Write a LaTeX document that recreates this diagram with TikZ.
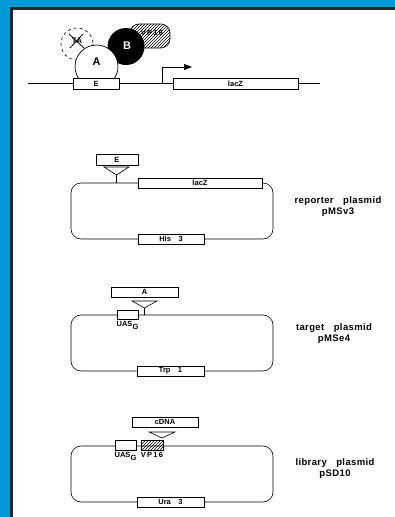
\documentclass[tikz,border=0pt]{standalone}
\usepackage{fontspec}
\setmainfont{Liberation Sans}
\newfontfamily\tagfont{Liberation Sans}[LetterSpace=4]
\usetikzlibrary{patterns,arrows.meta}
\definecolor{frameblue}{RGB}{0,153,214}
\definecolor{framedark}{RGB}{40,40,40}
\tikzset{
  gene/.style={draw, fill=white, line width=.7pt, inner sep=0pt, minimum height=10pt,
    font=\bfseries\fontsize{7.5}{8}\selectfont},
  tag/.style={font=\tagfont\bfseries\fontsize{9.5}{11}\selectfont, align=center},
  small/.style={font=\bfseries\fontsize{7.5}{8}\selectfont, inner sep=0pt},
  protein/.style={font=\bfseries\fontsize{11}{12}\selectfont, inner sep=0pt},
  plasmid/.style={line width=.6pt, rounded corners=10pt},
  insert/.style={draw, line width=.6pt, fill=white},
  hatch/.style={draw, line width=.6pt, pattern=north east lines},
}
\newcommand{\uasg}{UAS\raisebox{-.35em}{G}}
\begin{document}
\begin{tikzpicture}[x=1pt, y=-1pt]
  \useasboundingbox (0,0) rectangle (395,517);
  \fill [frameblue] (0,0) rectangle (395,517);
  \fill [white] (11,8) rectangle (395,517);
  \draw [framedark, line width=2.5pt] (11.5,517) -- (11.5,8.5) -- (395,8.5);

  % activation on the reporter
  \draw [line width=.6pt] (28,83) -- (320,83);
  \draw [dashed, line width=.6pt] (77,44) circle (16);
  \node [small, font=\bfseries\fontsize{8}{9}\selectfont] (ta) at (77,41) {TA};
  \draw [line width=.8pt] (69,34) -- (84,48) (83,34) -- (70,48);
  \draw [hatch, rounded corners=9pt] (130,24) rectangle (170,48);
  \node [small] (vpt) at (152,33) {V\,P\,1\,6};
  \fill (126,46.5) circle (18.5);
  \node [protein, white] (b) at (127,46) {B};
  \draw [fill=white, line width=.7pt] (96.5,66.5) circle (21.5);
  \node [protein] (a) at (96.5,62) {A};
  \node [gene, minimum width=46pt, minimum height=11pt] (e) at (96,83.5) {E};
  \node [gene, minimum width=125pt, minimum height=11pt] (lacz) at (235.5,83.5) {lacZ};
  \coordinate (prom) at (162,83);
  \draw [line width=.7pt, -{Triangle[length=8pt, width=6pt]}] (prom) -- (162,67) -- (192,67);

  % reporter plasmid
  \draw [plasmid] (71,183) rectangle (273,239);
  \node [gene, minimum width=42pt, minimum height=11pt] (e1) at (117,159.5) {E};
  \draw [insert] (104,167) -- (129,167) -- (116.5,175) coordinate (tip1) -- cycle;
  \draw [line width=.6pt] (tip1) -- (116.5,183);
  \node [gene, minimum width=124pt] (lacz1) at (200,183) {lacZ};
  \node [gene, minimum width=66pt] (his) at (171,239) {His\quad 3};
  \node [tag] (rep) at (338,207) {reporter\quad plasmid\\pMSv3};

  % target plasmid
  \draw [plasmid] (71,315) rectangle (273,371);
  \node [gene, minimum width=67pt] (abox) at (144.5,292) {A};
  \draw [insert] (132,301) -- (157,301) -- (144.5,308) coordinate (tip2) -- cycle;
  \draw [line width=.6pt] (tip2) -- (144.5,315);
  \node [gene, minimum width=21pt, minimum height=9pt] (uas2) at (127.5,314.5) {};
  \node [small, anchor=north] at ([yshift=-2pt]uas2.south) {\uasg};
  \node [gene, minimum width=67pt] (trp) at (170.5,371) {Trp\quad 1};
  \node [tag] (tar) at (334,333.5) {target\quad plasmid\\pMSe4};

  % library plasmid
  \draw [plasmid] (71,446) rectangle (273,502);
  \node [gene, minimum width=66pt] (cdna) at (165,422) {cDNA};
  \draw [insert] (149,432) -- (175,432) -- (162,438) -- cycle;
  \node [gene, minimum width=21pt] (uas3) at (125.5,445) {};
  \node [hatch, minimum width=22pt, minimum height=10pt, inner sep=0pt] (vp) at (152,445) {};
  \node [small, anchor=north] at ([yshift=-2pt]uas3.south) {\uasg};
  \node [small, anchor=north] at ([yshift=-2pt]vp.south) {V\,P\,1\,6};
  \node [gene, minimum width=67pt] (ura) at (170.5,502) {Ura\quad 3};
  \node [tag] (lib) at (335,468.5) {library\quad plasmid\\pSD10};
\end{tikzpicture}
\end{document}
